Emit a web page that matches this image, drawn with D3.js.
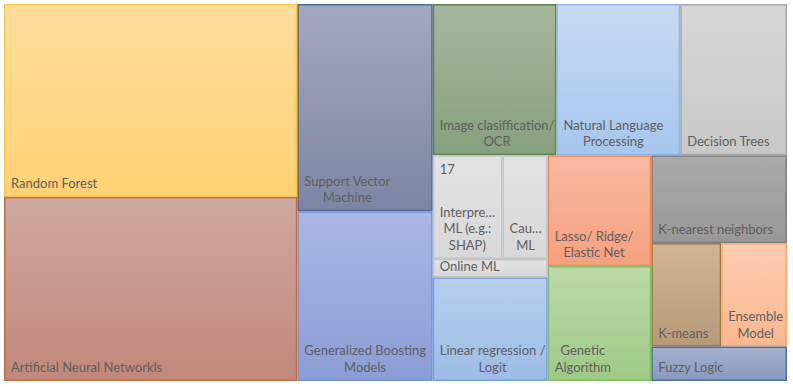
<!DOCTYPE html>
<html>
<head>
<meta charset="utf-8">
<script src="https://cdn.jsdelivr.net/npm/d3@7"></script>
<style>
  html, body { margin: 0; padding: 0; background: #ffffff; }
  svg { display: block; }
  text { font-family: Lato, "Open Sans", sans-serif; }
</style>
</head>
<body>
<div id="chart"></div>
<script>
// ---- data ----
const categories = [
  "Random Forest",
  "Artificial Neural Networkls",
  "Support Vector\nMachine",
  "Generalized Boosting\nModels",
  "Image clasiffication/\nOCR",
  "Natural Language\nProcessing",
  "Decision Trees",
  "Interpre…\nML (e.g.:\nSHAP)",
  "Cau…\nML",
  "Online ML",
  "Linear regression /\nLogit",
  "Lasso/ Ridge/\nElastic Net",
  "Genetic\nAlgorithm",
  "K-nearest neighbors",
  "K-means",
  "Ensemble\nModel",
  "Fuzzy Logic"
];
const values = [133, 127, 66, 54, 44, 44, 38, 17, 11, 5, 28, 27, 28, 28, 17, 16, 11];
// cells whose value is printed as a label
const showValue = [false, false, false, false, false, false, false, true, false, false, false, false, false, false, false, false, false];
// label alignment inside the text block
const colorsTop    = ["#fedd9c", "#cea89e", "#a2a8c0", "#a9b8e4", "#a5b79c", "#c6dbf3", "#d7d7d7", "#e3e3e3", "#e3e3e3", "#e3e3e3", "#b8cfed", "#f9b9a0", "#bcdaa8", "#aaaaaa", "#cfb596", "#fdcdb2", "#a3b2ce"];
const colorsBottom = ["#ffd173", "#c1887a", "#7c85a3", "#8a9dd6", "#87a07d", "#a6c6ec", "#c8c8c8", "#d8d8d8", "#d8d8d8", "#d8d8d8", "#9cbce6", "#f5a07f", "#9dca85", "#989898", "#b89a77", "#f9b78e", "#8899bf"];
const colorsBorder = ["#ffc83d", "#c0703f", "#51699a", "#7392d2", "#5f7f4f", "#8db8ea", "#a8a8a8", "#c4c4c4", "#c4c4c4", "#c4c4c4", "#73a3de", "#ef8b52", "#83be62", "#7f7f7f", "#9c7a3f", "#f7a56b", "#4f6ca1"];

// nesting used for the tiling (indices into the arrays above)
const grouping = [[0, 1], [2, 3], [[4, 5, 6], [[[7, 8], 9, 10], [11, 12], [13, [14, 15], 16]]]];

// ---- layout ----
const W = 793, H = 387;
const margin = {left: 4, top: 4, right: 6, bottom: 6};

function toNode(g) {
  if (Array.isArray(g)) return {children: g.map(toNode)};
  return {idx: g, name: categories[g], value: values[g]};
}
const root = d3.hierarchy(toNode(grouping)).sum(d => d.children ? 0 : d.value);

function tile(node, x0, y0, x1, y1) {
  if (x1 - x0 >= y1 - y0) d3.treemapDice(node, x0, y0, x1, y1);
  else d3.treemapSlice(node, x0, y0, x1, y1);
}

d3.treemap()
  .tile(tile)
  .size([W - margin.left - margin.right, H - margin.top - margin.bottom])
  .round(false)(root);

const svg = d3.select("#chart").append("svg")
  .attr("width", W).attr("height", H);

const defs = svg.append("defs");
categories.forEach((c, i) => {
  const g = defs.append("linearGradient")
    .attr("id", "grad" + i)
    .attr("x1", 0).attr("y1", 0).attr("x2", 0).attr("y2", 1);
  g.append("stop").attr("offset", "0%").attr("stop-color", colorsTop[i]);
  g.append("stop").attr("offset", "100%").attr("stop-color", colorsBottom[i]);
});

const plot = svg.append("g").attr("transform", `translate(${margin.left},${margin.top})`);
const leaves = root.leaves();

const cell = plot.selectAll("g.cell").data(leaves).join("g")
  .attr("class", "cell")
  .attr("transform", d => `translate(${d.x0},${d.y0})`);

cell.append("rect")
  .attr("x", 0.75).attr("y", 0.75)
  .attr("width", d => Math.max(0, d.x1 - d.x0 - 1.5))
  .attr("height", d => Math.max(0, d.y1 - d.y0 - 1.5))
  .attr("fill", d => `url(#grad${d.data.idx})`)
  .attr("stroke", d => colorsBorder[d.data.idx])
  .attr("stroke-width", 1.5);

const fontSize = 13, lineH = 16.5, padL = 7;

cell.each(function(d) {
  const g = d3.select(this);
  const lines = d.data.name.split("\n");
  const w = d.x1 - d.x0, h = d.y1 - d.y0;
  const bottomPad = Math.min(9, h * 0.35);
  const t = g.append("text")
    .attr("font-size", fontSize)
    .attr("fill", "#606060");
  lines.forEach((ln, k) => {
    t.append("tspan")
      .attr("y", h - bottomPad - (lines.length - 1 - k) * lineH)
      .text(ln);
  });
  // center lines relative to the widest line, block left aligned
  const spans = t.selectAll("tspan").nodes();
  const widths = spans.map(s => s.getComputedTextLength());
  const maxW = d3.max(widths);
  spans.forEach((s, k) => {
    d3.select(s).attr("x", padL + (maxW - widths[k]) / 2);
  });
  if (showValue[d.data.idx]) {
    g.append("text")
      .attr("font-size", fontSize)
      .attr("fill", "#606060")
      .attr("x", padL)
      .attr("y", 19)
      .text(d.data.value);
  }
});
</script>
</body>
</html>
